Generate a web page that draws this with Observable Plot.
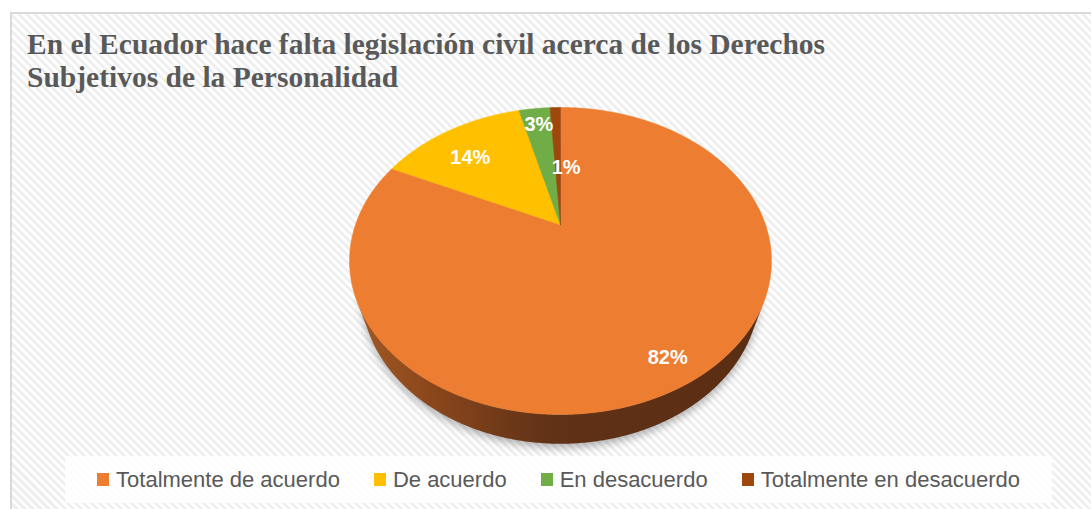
<!DOCTYPE html>
<html><head><meta charset="utf-8">
<script src="https://cdn.jsdelivr.net/npm/d3@7"></script>
<script src="https://cdn.jsdelivr.net/npm/@observablehq/plot@0.6"></script>
<style>
body{margin:0;background:#fff;}
#wrap{position:relative;width:1091px;height:509px;overflow:hidden;}
#frame{position:absolute;left:10px;top:12px;width:1100px;height:520px;border-left:2px solid #d9d9d9;border-top:2px solid #d9d9d9;
 background:repeating-linear-gradient(45deg,#ffffff 0px,#ffffff 2.8px,#efefef 2.8px,#efefef 5.66px);}
#title{position:absolute;left:27px;top:28px;font-family:"Liberation Serif","Times New Roman",serif;font-weight:bold;font-size:29.5px;line-height:33px;color:#595959;white-space:nowrap;}
#chart{position:absolute;left:0;top:0;}
#legend{position:absolute;left:65px;top:456px;width:987px;height:47px;background:rgba(255,255,255,0.85);display:flex;justify-content:center;align-items:center;gap:34px;
 font-family:"Liberation Sans",Arial,sans-serif;font-size:22px;color:#595959;}
.item{display:flex;align-items:center;white-space:nowrap;}
.sw{width:12px;height:13px;margin-right:7px;display:inline-block;}
</style></head>
<body>
<div id="wrap">
  <div id="frame"></div>
  <div id="title">En el Ecuador hace falta legislación civil acerca de los Derechos<br>Subjetivos de la Personalidad</div>
  <div id="chart"></div>
  <div id="legend"></div>
</div>
<script>
// ---- data ----
const categories = ["Totalmente de acuerdo", "De acuerdo", "En desacuerdo", "Totalmente en desacuerdo"];
const values = [82, 14, 3, 1];
const labels = ["82%", "14%", "3%", "1%"];
const colors = ["#ED7D31", "#FFC000", "#70AD47", "#9E480E"];

// ---- layout (3D pie projection) ----
const W = 1091, H = 509;
const cam = {cx: 560, cy: 224.3, scale: 615, D: 3, alpha: 45 * Math.PI / 180, h: 0.24};
const labelR = [0.88, 0.72, 0.8, 0.4];
const labelDx = [-10, -7, 0, 8];
const labelDy = [2, 4, -4, -4];

function proj(phiDeg, k, Y) {
  const p = phiDeg * Math.PI / 180;
  const X = k * Math.sin(p), Z = k * Math.cos(p);
  const ca = Math.cos(cam.alpha), sa = Math.sin(cam.alpha);
  const depth = cam.D + Z * ca - Y * sa;
  const up = Y * ca + Z * sa;
  return {x: cam.cx + cam.scale * X / depth, y: cam.cy - cam.scale * up / depth};
}
function arc(a0, a1, Y) {
  const n = Math.max(2, Math.ceil(Math.abs(a1 - a0) / 0.5));
  const pts = [];
  for (let i = 0; i <= n; i++) pts.push(proj(a0 + (a1 - a0) * i / n, 1, Y));
  return pts;
}

const total = d3.sum(values);
let cum = 0;
const slices = values.map((v, i) => {
  const a0 = 360 * cum / total; cum += v;
  const a1 = 360 * cum / total;
  return {i, cat: categories[i], a0, a1, color: colors[i], label: labels[i]};
});

const silh = Math.acos(-1 / (cam.D * Math.cos(cam.alpha))) * 180 / Math.PI;
const marks = [];

// soft shadow under the pie
const shadowPts = arc(0, 360, -cam.h);
marks.push(Plot.line(shadowPts, {x: "x", y: "y", fill: "#000", fillOpacity: 0.3, stroke: "none", dy: 4, ariaDescription: "shadow"}));

// side walls
for (const s of slices) {
  const lo = Math.max(s.a0, silh), hi = Math.min(s.a1, 360 - silh);
  if (hi <= lo) continue;
  const pts = [...arc(lo, hi, 0), ...arc(hi, lo, -cam.h)];
  marks.push(Plot.line(pts, {x: "x", y: "y", fill: "#5a2e13", stroke: "none", ariaDescription: "side"}));
}
// top faces
for (const s of slices) {
  const pts = [proj(0, 0, 0), ...arc(s.a0, s.a1, 0), proj(0, 0, 0)];
  marks.push(Plot.line(pts, {x: "x", y: "y", fill: s.color, stroke: s.color, strokeWidth: 0.6}));
}
// labels
const labelData = slices.map(s => {
  const p = proj((s.a0 + s.a1) / 2, labelR[s.i], 0);
  return {x: p.x + labelDx[s.i], y: p.y + labelDy[s.i], text: s.label};
});
marks.push(Plot.text(labelData, {x: "x", y: "y", text: "text", fill: "white", fontSize: 20, fontWeight: "bold",
  fontFamily: "Liberation Sans, Arial, sans-serif", textAnchor: "middle", lineAnchor: "middle"}));

const chart = Plot.plot({
  width: W, height: H, margin: 0,
  x: {domain: [0, W], range: [0, W], axis: null},
  y: {domain: [0, H], range: [0, H], axis: null},
  style: {background: "transparent", overflow: "visible"},
  marks
});
document.getElementById("chart").appendChild(chart);

// gradient for the side wall, blur for the shadow
const svg = d3.select(chart);
const defs = svg.append("defs");
const g = defs.append("linearGradient").attr("id", "sideGrad").attr("gradientUnits", "userSpaceOnUse")
  .attr("x1", 349).attr("x2", 771).attr("y1", 0).attr("y2", 0);
[[0, "#a35a24"], [0.2, "#8a461b"], [0.4, "#6a3718"], [0.5, "#603116"], [1, "#5a2e13"]]
  .forEach(([o, c]) => g.append("stop").attr("offset", o).attr("stop-color", c));
defs.append("filter").attr("id", "pieBlur").attr("x", "-20%").attr("y", "-20%").attr("width", "140%").attr("height", "140%")
  .append("feGaussianBlur").attr("stdDeviation", 4);
svg.selectAll('g[aria-description="side"]').attr("fill", "url(#sideGrad)");
svg.selectAll('g[aria-description="shadow"]').attr("filter", "url(#pieBlur)");

// legend
const legend = d3.select("#legend");
categories.forEach((c, i) => {
  const it = legend.append("div").attr("class", "item");
  it.append("span").attr("class", "sw").style("background", colors[i]);
  it.append("span").text(c);
});
</script>
</body></html>
